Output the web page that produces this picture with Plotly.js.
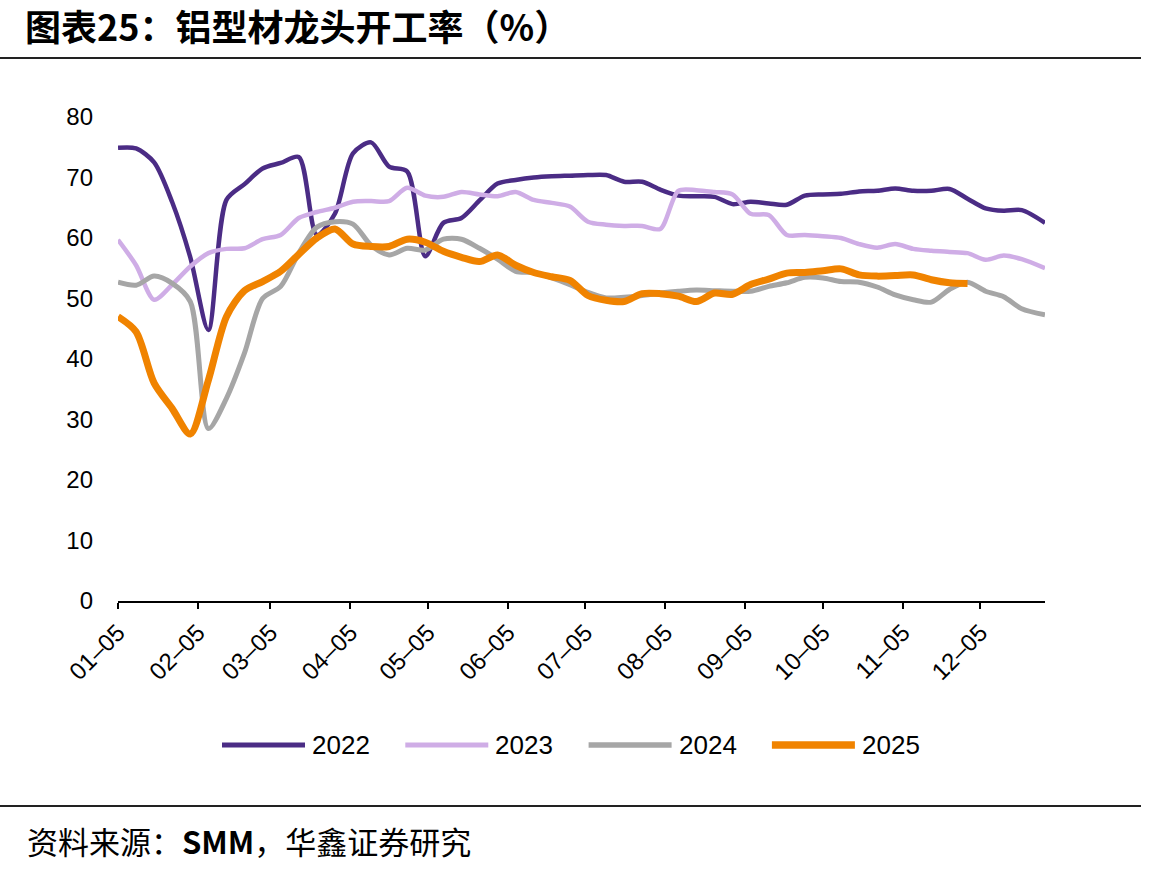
<!DOCTYPE html>
<html>
<head>
<meta charset="utf-8">
<script src="https://cdn.plot.ly/plotly-3.0.1.min.js"></script>
<style>
html,body{margin:0;padding:0;background:#fff;}
#chart{width:1155px;height:875px;}
</style>
</head>
<body>
<div id="chart"></div>
<script>
// Weekly observation dates (month-day), shared across years
const weeks = ["01-05","01-12","01-19","01-26","02-02","02-09","02-16","02-23",
  "03-02","03-09","03-16","03-23","03-30","04-06","04-13","04-20","04-27",
  "05-04","05-11","05-18","05-25","06-01","06-08","06-15","06-22","06-29",
  "07-06","07-13","07-20","07-27","08-03","08-10","08-17","08-24","08-31",
  "09-07","09-14","09-21","09-28","10-05","10-12","10-19","10-26",
  "11-02","11-09","11-16","11-23","11-30","12-07","12-14","12-21","12-30"];

const seriesNames = ["2022","2023","2024","2025"];

const y2022 = [74.9,74.8,72.5,65.9,56.8,44.8,66.3,68.9,71.5,72.4,73.4,60.5,64.0,74.0,75.8,71.8,71.0,
  57.0,62.5,63.3,66.2,69.0,69.6,70.0,70.2,70.3,70.4,70.4,69.3,69.3,68.0,67.0,66.9,66.8,65.6,
  66.0,65.7,65.5,67.0,67.2,67.3,67.7,67.8,68.2,67.8,67.8,68.1,66.5,64.9,64.5,64.6,62.5];

const y2023 = [59.7,55.5,49.8,52.3,55.3,57.5,58.2,58.3,59.8,60.5,63.3,64.3,65.0,66.0,66.1,66.1,68.3,
  67.0,66.8,67.6,67.2,66.9,67.6,66.3,65.8,65.2,62.7,62.2,62.0,62.0,61.5,67.8,67.9,67.6,67.2,
  64.0,63.8,60.5,60.5,60.3,60.0,59.0,58.4,59.0,58.2,57.9,57.7,57.5,56.4,57.1,56.5,55.0];

const y2024 = [52.7,52.2,53.7,52.5,49.5,28.5,33.5,41.0,50.0,52.0,57.5,61.8,62.7,62.3,58.8,57.2,58.3,
  58.0,59.8,59.8,58.3,56.5,54.5,54.3,53.4,52.3,51.0,50.1,50.2,50.5,50.9,51.2,51.4,51.3,51.2,
  51.2,52.0,52.6,53.5,53.4,52.8,52.7,51.9,50.6,49.8,49.4,51.5,52.7,51.2,50.3,48.3,47.3];

const y2025 = [47.0,44.5,36.0,31.8,27.6,36.5,47.0,51.3,52.8,54.5,57.3,60.0,61.5,59.0,58.6,58.6,59.8,
  59.3,57.8,56.8,56.1,57.2,55.5,54.3,53.6,53.0,50.5,49.7,49.5,50.8,50.8,50.4,49.5,50.9,50.7,
  52.3,53.2,54.2,54.3,54.6,54.9,53.9,53.7,53.8,53.9,53.1,52.6,52.5];

const tickDays = ["01-05","02-05","03-05","04-05","05-05","06-05","07-05","08-05","09-05","10-05","11-05","12-05"];
const tickLabels = ["01–05","02–05","03–05","04–05","05–05","06–05","07–05","08–05","09–05","10–05","11–05","12–05"];

const values = [y2022, y2023, y2024, y2025];
const colors = ["#4B2C85", "#CFADE6", "#A6A6A6", "#F08300"];
const widths = [4.5, 4.5, 5, 7];

const baseYear = "2022-";
const traces = values.map((v, i) => ({
  type: "scatter",
  mode: "lines",
  name: seriesNames[i],
  x: weeks.slice(0, v.length).map(d => baseYear + d),
  y: v,
  line: {color: colors[i], width: widths[i], shape: "spline", smoothing: 0.8},
  hoverinfo: "skip",
  showlegend: false
}));

// plot-area geometry (pixels) used to convert to paper coordinates
const W = 1155, H = 875, L = 118, R = 1045, T = 117, B = 601;
const px = x => (x - L) / (R - L);
const py = y => (B - y) / (B - T);

const shapes = [
  {type: "line", xref: "paper", yref: "paper", x0: px(0), x1: px(1141), y0: py(58), y1: py(58),
   line: {color: "#222", width: 2}},
  {type: "line", xref: "paper", yref: "paper", x0: px(0), x1: px(1141), y0: py(806), y1: py(806),
   line: {color: "#222", width: 2}}
];
const annotations = [
  {xref: "paper", yref: "paper", x: px(25), y: py(840), xanchor: "left", yanchor: "middle",
   text: "资料来源：<b>SMM</b>，华鑫证券研究", showarrow: false,
   font: {family: "Noto Sans CJK SC", size: 31, color: "#000"}}
];

// custom legend with long line samples
const legStart = 222, legStep = 183.3, legLen = 83, legTextOff = 88, legY = 745;
seriesNames.forEach((n, i) => {
  const x0 = legStart + i * legStep;
  shapes.push({type: "line", xref: "paper", yref: "paper", x0: px(x0), x1: px(x0 + legLen),
    y0: py(legY), y1: py(legY), line: {color: colors[i], width: widths[i] + 0.5}});
  annotations.push({xref: "paper", yref: "paper", x: px(x0 + legTextOff), y: py(legY),
    xanchor: "left", yanchor: "middle", text: n, showarrow: false,
    font: {family: "Liberation Sans, Arial", size: 26, color: "#000"}});
});

const layout = {
  width: W, height: H,
  margin: {l: L, r: W - R, t: T, b: H - B},
  paper_bgcolor: "#fff", plot_bgcolor: "#fff",
  title: {text: "<b>图表25：铝型材龙头开工率（%）</b>", xref: "container", yref: "container",
    x: 25 / W, xanchor: "left", y: 1 - 28 / H, yanchor: "middle",
    font: {family: "Noto Sans CJK SC", size: 36, color: "#000"}},
  xaxis: {
    type: "date",
    range: [baseYear + "01-05", baseYear + "12-30"],
    tickvals: tickDays.map(d => baseYear + d),
    ticktext: tickLabels,
    tickangle: -45,
    ticks: "outside", ticklen: 6, tickwidth: 2, tickcolor: "#000",
    showline: true, linecolor: "#000", linewidth: 2,
    showgrid: false, zeroline: false,
    tickfont: {family: "Liberation Sans, Arial", size: 24, color: "#000"},
    fixedrange: true
  },
  yaxis: {
    range: [0, 80], dtick: 10, tick0: 0,
    showline: false, showgrid: false, zeroline: false,
    ticks: "", ticklabelstandoff: 24,
    tickfont: {family: "Liberation Sans, Arial", size: 24, color: "#000"},
    fixedrange: true
  },
  shapes: shapes,
  annotations: annotations,
  showlegend: false
};

Plotly.newPlot("chart", traces, layout, {displayModeBar: false, staticPlot: true});
</script>
</body>
</html>
